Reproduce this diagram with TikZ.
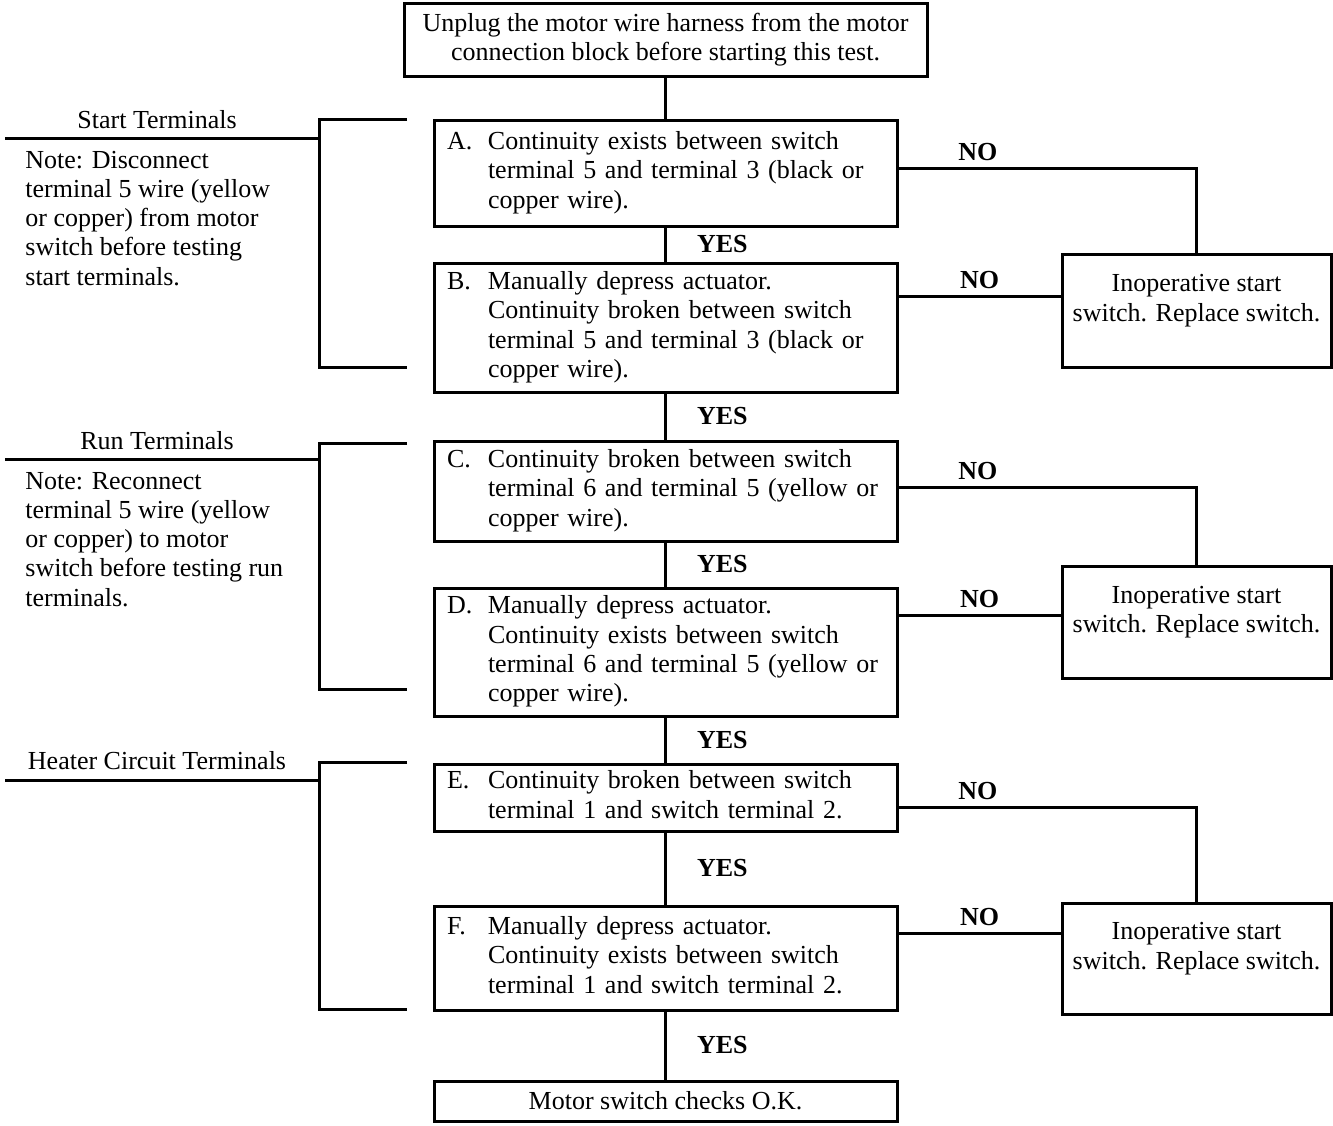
\documentclass[tikz,border=0pt]{standalone}
\usepackage{fontspec}
\setmainfont{Liberation Serif}
\usepackage{tikz}
\usetikzlibrary{positioning}
\newcommand{\diagfont}{\fontsize{13}{14.65}\selectfont}
\newcommand{\stepitem}[2]{\begin{tabular}{@{}p{20.5pt}@{}l@{}}#1&#2\end{tabular}}
\newcommand{\notetext}[1]{\begin{tabular}[t]{@{}l@{}}#1\end{tabular}}
\newcommand{\failtext}{\raisebox{5pt}[\height][\depth]{\begin{tabular}{@{}c@{}}Inoperative start\\switch. Replace switch.\end{tabular}}}
\tikzset{
  wire/.style={line width=1.5pt},
  grp/.style={inner sep=0pt}
}

\begin{document}
\begin{tikzpicture}[
  x=0.5pt, y=-0.5pt, font=\diagfont,
  headbox/.style={draw,line width=1.5pt,outer sep=0pt,minimum width=261.5pt,
                  minimum height=36.5pt,inner sep=1pt,align=center},
  stepbox/.style={draw,line width=1.5pt,outer sep=0pt,text width=218.5pt,
                  inner xsep=6.5pt,inner ysep=1pt,align=left},
  endbox/.style={draw,line width=1.5pt,outer sep=0pt,minimum width=231.5pt,
                 minimum height=20pt,inner sep=1pt},
  failbox/.style={draw,line width=1.5pt,outer sep=0pt,minimum width=134.5pt,
                  inner sep=1pt,anchor=north west},
  yes/.style={right=12pt,inner sep=3pt,font=\diagfont\bfseries},
  no/.style={above,inner sep=3pt,font=\diagfont\bfseries}
]
  \useasboundingbox (0,0) rectangle (1333,1125);

  \node[headbox] (unplug) at (665.5,39.5)
    {Unplug the motor wire harness from the motor\\connection block before starting this test.};
  \node[stepbox,minimum height=53pt,below=22pt of unplug] (A)
    {\stepitem{A.}{Continuity exists between switch\\&terminal 5 and terminal 3 (black or\\&copper wire).}};
  \node[stepbox,minimum height=64.5pt,below=18.5pt of A] (B)
    {\stepitem{B.}{Manually depress actuator.\\&Continuity broken between switch\\&terminal 5 and terminal 3 (black or\\&copper wire).}};
  \node[stepbox,minimum height=50pt,below=24.5pt of B] (C)
    {\stepitem{C.}{Continuity broken between switch\\&terminal 6 and terminal 5 (yellow or\\&copper wire).}};
  \node[stepbox,minimum height=64pt,below=23.5pt of C] (D)
    {\stepitem{D.}{Manually depress actuator.\\&Continuity exists between switch\\&terminal 6 and terminal 5 (yellow or\\&copper wire).}};
  \node[stepbox,minimum height=33.5pt,below=24pt of D] (E)
    {\stepitem{E.}{Continuity broken between switch\\&terminal 1 and switch terminal 2.}};
  \node[stepbox,minimum height=52pt,below=37.5pt of E] (F)
    {\stepitem{F.}{Manually depress actuator.\\&Continuity exists between switch\\&terminal 1 and switch terminal 2.}};
  \node[endbox,below=35.5pt of F] (ok) {Motor switch checks O.K.};

  \node[failbox,minimum height=56.5pt] (R1) at (1062,254) {\failtext};
  \node[failbox,minimum height=56pt]   (R2) at (1062,566) {\failtext};
  \node[failbox,minimum height=55.5pt] (R3) at (1062,903) {\failtext};

  \draw[wire] (unplug) -- (A);
  \draw[wire] (A) -- node[yes]{YES} (B);
  \draw[wire] (B) -- node[yes]{YES} (C);
  \draw[wire] (C) -- node[yes]{YES} (D);
  \draw[wire] (D) -- node[yes]{YES} (E);
  \draw[wire] (E) -- node[yes]{YES} (F);
  \draw[wire] (F) -- node[yes]{YES} (ok);

  \draw[wire] (A.east |- 0,168) -| node[no,pos=0.135]{NO} (R1.north);
  \draw[wire] (B.east |- 0,296) -- node[no]{NO} (R1.west |- 0,296);
  \draw[wire] (C.east |- 0,487) -| node[no,pos=0.135]{NO} (R2.north);
  \draw[wire] (D.east |- 0,615) -- node[no]{NO} (R2.west |- 0,615);
  \draw[wire] (E.east |- 0,807) -| node[no,pos=0.135]{NO} (R3.north);
  \draw[wire] (F.east |- 0,933) -- node[no]{NO} (R3.west |- 0,933);

  % terminal groups
  \node[grp,anchor=base] (startT) at (157,128) {Start Terminals};
  \node[grp,anchor=base west] (startN) at (25,168)
    {\notetext{Note: Disconnect\\terminal 5 wire (yellow\\or copper) from motor\\switch before testing\\start terminals.}};
  \draw[wire] (5,138) -- (319,138);
  \draw[wire] (407,119) -| (319,367) -- (407,367);

  \node[grp,anchor=base] (runT) at (157,449) {Run Terminals};
  \node[grp,anchor=base west] (runN) at (25,489)
    {\notetext{Note: Reconnect\\terminal 5 wire (yellow\\or copper) to motor\\switch before testing run\\terminals.}};
  \draw[wire] (5,459) -- (319,459);
  \draw[wire] (407,443) -| (319,689) -- (407,689);

  \node[grp,anchor=base] (heatT) at (157,769) {Heater Circuit Terminals};
  \draw[wire] (5,780) -- (319,780);
  \draw[wire] (407,762) -| (319,1009) -- (407,1009);
\end{tikzpicture}
\end{document}
